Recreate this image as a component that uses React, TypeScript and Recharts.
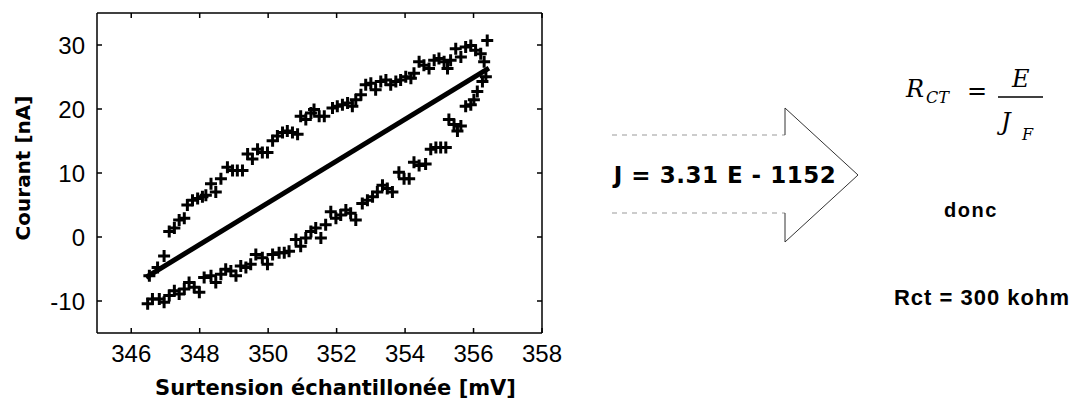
import { ScatterChart, Scatter, XAxis, YAxis } from "recharts";

const xTicks = [346, 348, 350, 352, 354, 356, 358];
const yTicks = [-10, 0, 10, 20, 30];

// branche aller (au-dessus de la droite)
const upperBranch: [number, number][] = [
  [346.53, -6.07], [346.77, -4.78], [346.96, -2.98], [347.11, 0.87], [347.26, 1.39],
  [347.4, 2.67], [347.55, 2.93], [347.64, 4.99], [347.79, 5.76], [347.94, 6.02],
  [348.08, 6.28], [348.18, 6.53], [348.33, 8.33], [348.47, 7.05], [348.62, 9.1],
  [348.81, 10.91], [348.96, 10.39], [349.1, 10.39], [349.25, 10.39], [349.4, 12.96],
  [349.54, 12.19], [349.69, 13.73], [349.83, 13.22], [349.98, 13.22], [350.13, 15.02],
  [350.27, 15.79], [350.42, 16.31], [350.56, 16.56], [350.71, 16.31], [350.86, 16.05],
  [350.95, 18.88], [351.1, 18.36], [351.25, 19.39], [351.34, 19.91], [351.49, 18.88],
  [351.64, 18.88], [351.88, 20.16], [352.02, 20.42], [352.17, 20.68], [352.32, 20.94],
  [352.46, 20.42], [352.56, 21.45], [352.71, 22.22], [352.85, 23.77], [353.0, 24.02],
  [353.14, 22.99], [353.29, 24.28], [353.44, 24.54], [353.58, 23.77], [353.73, 24.28],
  [353.87, 24.54], [354.02, 25.05], [354.17, 24.79], [354.26, 25.57], [354.41, 27.37],
  [354.55, 26.85], [354.7, 26.34], [354.85, 27.62], [354.99, 27.88], [355.14, 27.37],
  [355.24, 26.34], [355.33, 27.62], [355.48, 29.42], [355.63, 28.14], [355.77, 29.68],
  [355.92, 29.94], [356.06, 29.17], [356.21, 28.65], [356.31, 27.37], [356.4, 30.71],
];

// branche retour (au-dessous)
const lowerBranch: [number, number][] = [
  [346.48, -10.44], [346.62, -9.67], [346.82, -9.67], [346.96, -10.19], [347.11, -9.16],
  [347.26, -8.38], [347.4, -8.9], [347.55, -8.13], [347.69, -7.1], [347.84, -7.87],
  [347.99, -8.64], [348.13, -6.33], [348.33, -6.07], [348.47, -7.1], [348.62, -5.81],
  [348.76, -5.04], [348.91, -5.3], [349.06, -6.07], [349.2, -4.53], [349.35, -4.78],
  [349.49, -4.27], [349.64, -2.73], [349.83, -3.24], [349.98, -4.27], [350.13, -2.73],
  [350.32, -2.47], [350.47, -2.47], [350.61, -2.21], [350.81, -0.41], [350.95, -1.44],
  [351.1, -0.15], [351.25, 0.87], [351.39, 1.39], [351.54, -0.15], [351.68, 1.9],
  [351.83, 3.96], [351.98, 2.93], [352.12, 3.45], [352.27, 4.22], [352.41, 3.7],
  [352.56, 2.67], [352.75, 5.25], [352.9, 5.76], [353.05, 6.28], [353.19, 7.05],
  [353.34, 8.08], [353.48, 7.56], [353.63, 7.05], [353.82, 10.13], [353.97, 9.1],
  [354.12, 9.1], [354.26, 11.68], [354.41, 11.16], [354.6, 11.42], [354.75, 13.73],
  [354.9, 13.99], [355.04, 13.99], [355.19, 13.99], [355.28, 18.36], [355.43, 17.59],
  [355.53, 16.56], [355.63, 17.34], [355.77, 20.42], [355.92, 20.68], [356.01, 21.45],
  [356.11, 22.74], [356.26, 24.28], [356.36, 25.05],
];

// droite de régression J = 3.31 E - 1152
const fitLine: [number, number][] = [
  [346.43, -6.3],
  [356.45, 26.4],
];

const toPts = (arr: [number, number][]) => arr.map(([x, y]) => ({ x, y }));
const pointsData = toPts([...upperBranch, ...lowerBranch]);
const lineData = toPts(fitLine);

const tickFamily = "'Liberation Sans', Arial, sans-serif";
const boldFont = "'DejaVu Sans', Verdana, sans-serif";
const serifFont = "'DejaVu Serif', 'Liberation Serif', serif";
const TICK_LEN = 5;
const GAP = 12;

const PlusMark = (props: any) => {
  const { cx, cy } = props;
  return (
    <path
      d={`M${cx - 6},${cy}H${cx + 6}M${cx},${cy - 6}V${cy + 6}`}
      stroke="#000"
      strokeWidth={3}
      fill="none"
    />
  );
};

// ticks vers l'intérieur (style matlab) + libellés
const BottomTick = (props: any) => {
  const { x, y, payload } = props;
  const axisY = y - GAP;
  return (
    <g>
      <line x1={x} y1={axisY} x2={x} y2={axisY - TICK_LEN} stroke="#000" strokeWidth={1.5} />
      <text x={x} y={y + 17} textAnchor="middle" fontFamily={tickFamily} fontSize={24} fill="#000">
        {payload.value}
      </text>
    </g>
  );
};

const LeftTick = (props: any) => {
  const { x, y, payload } = props;
  const axisX = x + GAP;
  return (
    <g>
      <line x1={axisX} y1={y} x2={axisX + TICK_LEN} y2={y} stroke="#000" strokeWidth={1.5} />
      <text x={x} y={y + 8.5} textAnchor="end" fontFamily={tickFamily} fontSize={24} fill="#000">
        {payload.value}
      </text>
    </g>
  );
};

const TopTick = (props: any) => {
  const { x, y } = props;
  return <line x1={x} y1={y} x2={x} y2={y + TICK_LEN} stroke="#000" strokeWidth={1.5} />;
};

const RightTick = (props: any) => {
  const { x, y } = props;
  return <line x1={x} y1={y} x2={x - TICK_LEN} y2={y} stroke="#000" strokeWidth={1.5} />;
};

const YLabel = (props: any) => {
  const { viewBox } = props;
  const x = viewBox.x + 30;
  const y = viewBox.y + viewBox.height / 2 - 5;
  return (
    <text
      x={x}
      y={y}
      transform={`rotate(-90, ${x}, ${y})`}
      textAnchor="middle"
      fontFamily={boldFont}
      fontWeight="bold"
      fontSize={20}
      fill="#000"
    >
      Courant [nA]
    </text>
  );
};

const XLabel = (props: any) => {
  const { viewBox } = props;
  return (
    <text
      x={viewBox.x + viewBox.width / 2 + 16}
      y={viewBox.y + 62}
      textAnchor="middle"
      fontFamily={boldFont}
      fontWeight="bold"
      fontSize={21}
      fill="#000"
    >
      Surtension échantillonée [mV]
    </text>
  );
};

const axisLine = { stroke: "#000", strokeWidth: 1.5 };

const Arrow = () => (
  <svg
    width={1079}
    height={407}
    style={{ position: "absolute", left: 0, top: 0, pointerEvents: "none" }}
  >
    <line x1={612} y1={135} x2={785} y2={135} stroke="#999" strokeWidth={1} strokeDasharray="5 5" />
    <line x1={612} y1={213} x2={785} y2={213} stroke="#999" strokeWidth={1} strokeDasharray="5 5" />
    <polyline
      points="785,135 785,108 858,175 785,242 785,213"
      fill="none"
      stroke="#333"
      strokeWidth={1}
    />
    <text
      x={725}
      y={183}
      textAnchor="middle"
      fontFamily={boldFont}
      fontWeight="bold"
      fontSize={23}
      letterSpacing={0.5}
      fill="#000"
    >
      J = 3.31 E - 1152
    </text>

    <g fontFamily={serifFont} fill="#000">
      <text x={906} y={97} fontSize={24} fontStyle="italic">R</text>
      <text x={926} y={103} fontSize={16} fontStyle="italic">CT</text>
      <text x={977} y={99} fontSize={24} textAnchor="middle">=</text>
      <line x1={998} y1={97} x2={1043} y2={97} stroke="#000" strokeWidth={1.5} />
      <text x={1012} y={87} fontSize={24} fontStyle="italic">E</text>
      <text x={1001} y={130} fontSize={24} fontStyle="italic">J</text>
      <text x={1022} y={140} fontSize={16} fontStyle="italic">F</text>
    </g>

    <text
      x={971}
      y={217}
      textAnchor="middle"
      fontFamily="'Liberation Sans', Arial, sans-serif"
      fontWeight="bold"
      fontSize={20}
      letterSpacing={1.5}
      fill="#000"
    >
      donc
    </text>
    <text
      x={982}
      y={305}
      textAnchor="middle"
      fontFamily="'Liberation Sans', Arial, sans-serif"
      fontWeight="bold"
      fontSize={22}
      letterSpacing={1}
      fill="#000"
    >
      Rct = 300 kohm
    </text>
  </svg>
);

export default function App() {
  return (
    <div style={{ position: "absolute", left: 0, top: 0, width: 1079, height: 407, background: "#fff" }}>
      <ScatterChart width={580} height={407} margin={{ top: 12, right: 37, bottom: 0, left: 0 }}>
        <XAxis
          xAxisId="bottom"
          type="number"
          dataKey="x"
          domain={[345, 358]}
          allowDataOverflow
          ticks={xTicks}
          height={74}
          tickSize={0}
          tickMargin={GAP}
          tickLine={false}
          axisLine={axisLine}
          tick={<BottomTick />}
          label={<XLabel />}
        />
        <XAxis
          xAxisId="top"
          orientation="top"
          type="number"
          dataKey="x"
          domain={[345, 358]}
          allowDataOverflow
          ticks={xTicks}
          height={1}
          tickSize={0}
          tickMargin={0}
          tickLine={false}
          axisLine={axisLine}
          tick={<TopTick />}
        />
        <YAxis
          yAxisId="left"
          type="number"
          dataKey="y"
          domain={[-15, 35]}
          allowDataOverflow
          ticks={yTicks}
          width={97}
          tickSize={0}
          tickMargin={GAP}
          tickLine={false}
          axisLine={axisLine}
          tick={<LeftTick />}
          label={<YLabel />}
        />
        <YAxis
          yAxisId="right"
          orientation="right"
          type="number"
          dataKey="y"
          domain={[-15, 35]}
          allowDataOverflow
          ticks={yTicks}
          width={1}
          tickSize={0}
          tickMargin={0}
          tickLine={false}
          axisLine={axisLine}
          tick={<RightTick />}
        />
        <Scatter
          xAxisId="bottom"
          yAxisId="left"
          data={lineData}
          line={{ stroke: "#000", strokeWidth: 5 }}
          shape={() => <g />}
          isAnimationActive={false}
        />
        <Scatter
          xAxisId="bottom"
          yAxisId="left"
          data={pointsData}
          shape={<PlusMark />}
          isAnimationActive={false}
        />
      </ScatterChart>
      <Arrow />
    </div>
  );
}
